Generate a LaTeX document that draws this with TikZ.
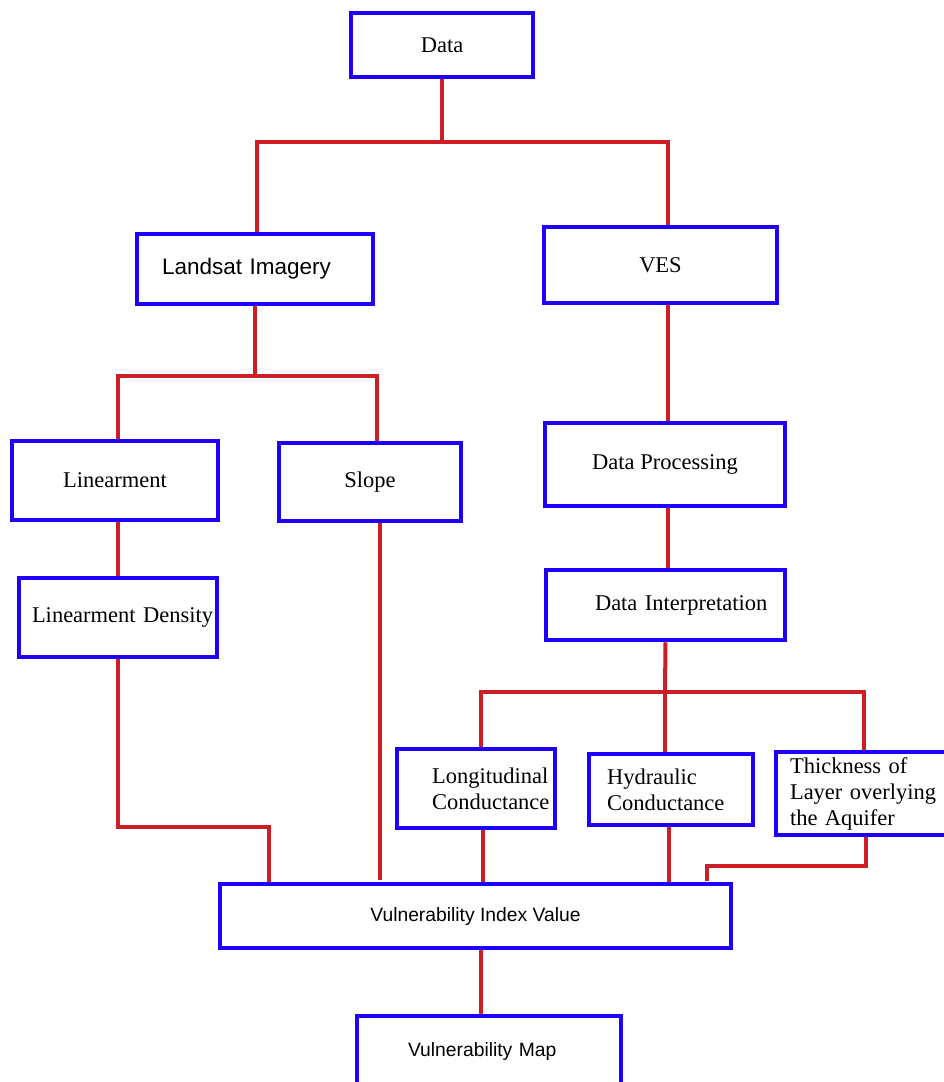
\documentclass[tikz,border=0pt]{standalone}
\usepackage{fontspec}
\setmainfont{Liberation Serif}
\setsansfont{Liberation Sans}
\usetikzlibrary{calc}
\definecolor{boxblue}{RGB}{30,0,250}
\definecolor{linkred}{RGB}{204,30,36}

\begin{document}
\begin{tikzpicture}
[x=1pt,y=-1pt,
 box/.style={draw=boxblue,line width=4.5pt,rectangle,inner sep=0pt},
 serif/.style={font=\fontsize{22.5}{26}\selectfont},
 sans/.style={font=\sffamily\fontsize{22.5}{26}\selectfont},
 small sans/.style={font=\sffamily\fontsize{19.3}{22}\selectfont},
 link/.style={draw=linkred,line width=4pt}]
\useasboundingbox (0,0) rectangle (944,1082);

% boxes
\node[box,serif,minimum width=182pt,minimum height=64pt] (data) at (442,45) {Data};
\node[box,sans,minimum width=236pt,minimum height=70pt,text width=186pt,align=left] (landsat) at (255,269) {Landsat Imagery};
\node[box,serif,minimum width=233pt,minimum height=76pt] (ves) at (660.5,265) {VES};
\node[box,serif,minimum width=206pt,minimum height=79pt] (linm) at (115,480.5) {Linearment};
\node[box,serif,minimum width=182pt,minimum height=78pt] (slope) at (370,482) {Slope};
\node[box,serif,minimum width=240pt,minimum height=83pt] (dproc) at (665,464.5) {Data Processing};
\node[box,serif,minimum width=198pt,minimum height=79pt,text width=172pt,align=left] (lind) at (118,617.5) {\mbox{Linearment Density}};
\node[box,serif,minimum width=239pt,minimum height=70pt,text width=141pt,align=left] (dint) at (665.5,605) {\mbox{Data Interpretation}};
\node[box,serif,minimum width=158pt,minimum height=79pt,text width=88pt,align=left] (lcond) at (476,788.5) {Longitudinal\\Conductance};
\node[box,serif,minimum width=164pt,minimum height=71pt,text width=128pt,align=left] (hcond) at (671,789.5) {Hydraulic\\Conductance};
\node[box,serif,minimum width=180pt,minimum height=83pt,text width=152pt,align=left] (thick) at (866,793.5) {Thickness of\\Layer overlying\\the Aquifer};
\node[box,small sans,minimum width=511pt,minimum height=64pt] (vidx) at (475.5,916) {Vulnerability Index Value};
\node[box,small sans,minimum width=264pt,minimum height=70pt,text width=162pt,align=left] (vmap) at (489,1051) {\mbox{Vulnerability Map}};

% junctions and free ends
\coordinate (j1) at (442,142);
\coordinate (j2) at (255,376);
\coordinate (j3) at (269,827);
\coordinate (j4) at (665,692);
\coordinate (j5) at (707,866);
\coordinate (slopeend) at (380,880);
\coordinate (thickend) at (707,881);

% connectors
\draw[link] (data.south) -- (j1);
\draw[link] ([xshift=2pt]landsat.north) |- (j1) -| ([xshift=7.5pt]ves.north);
\draw[link] (landsat.south) -- (j2);
\draw[link] ([xshift=3pt]linm.north) |- (j2) -| ([xshift=7pt]slope.north);
\draw[link] ([xshift=7.5pt]ves.south) -- ([xshift=7.5pt]ves.south |- dproc.north);
\draw[link] (lind.north |- linm.south) -- (lind.north);
\draw[link] ([xshift=10pt]slope.south) -- (slopeend);
\draw[link] (lind.south) |- (j3) -- (j3 |- vidx.north);
\draw[link] ([xshift=3pt]dproc.south) -- ([xshift=3pt]dproc.south |- dint.north);
\draw[link] (dint.south) -- (j4);
\draw[link] ([xshift=5pt]lcond.north) |- (j4) -| ([xshift=-2pt]thick.north);
\draw[link] (j4) -- (j4 |- hcond.north);
\draw[link] ([xshift=7pt]lcond.south) -- ([xshift=7pt]lcond.south |- vidx.north);
\draw[link] ([xshift=-2pt]hcond.south) -- ([xshift=-2pt]hcond.south |- vidx.north);
\draw[link] (thick.south) |- (j5) -- (thickend);
\draw[link] ([xshift=5.5pt]vidx.south) -- ([xshift=5.5pt]vidx.south |- vmap.north);
\end{tikzpicture}
\end{document}
